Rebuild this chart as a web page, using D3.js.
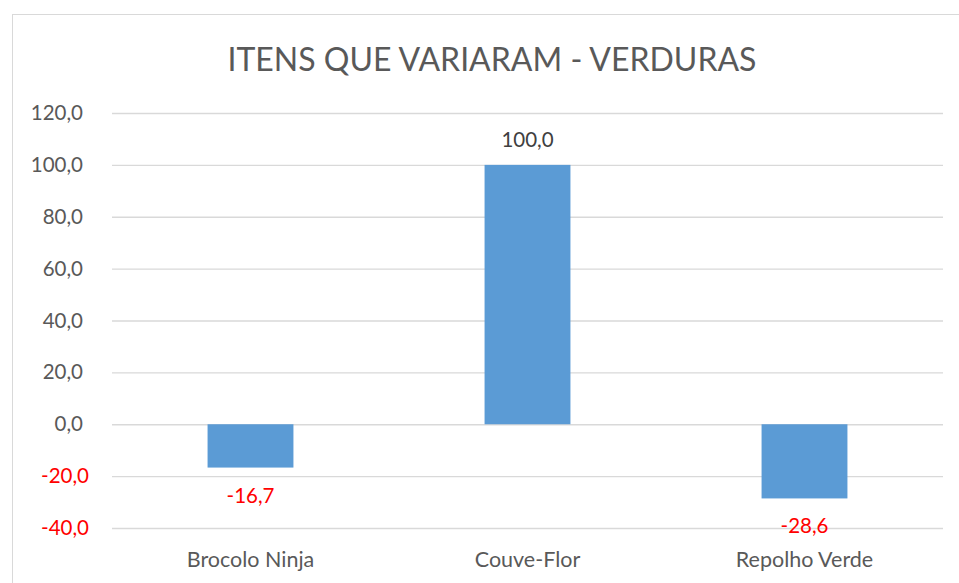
<!DOCTYPE html>
<html>
<head>
<meta charset="utf-8">
<title>Itens que variaram - Verduras</title>
<style>
	body { margin: 0; background: #fff; }
	svg { display: block; font-family: Lato, "Open Sans", sans-serif; }
</style>
</head>
<body>
<script src="https://cdn.jsdelivr.net/npm/d3@7"></script>
<script>

var categories = ["Brocolo Ninja", "Couve-Flor", "Repolho Verde"];
var values = [-16.7, 100.0, -28.6];
var yTicks = [-40, -20, 0, 20, 40, 60, 80, 100, 120];
var title = "ITENS QUE VARIARAM - VERDURAS";

var width = 959;
var height = 583;
var margin = { top: 113, right: 16, bottom: 55, left: 112 };

// excel style numbers: one decimal, comma, plain hyphen for minus
var fmt = function(v) { return v.toFixed(1).replace(".", ","); };

var svg = d3.select("body").append("svg")
	.attr("width", width)
	.attr("height", height);

// chart frame, runs off the right and bottom edges
svg.append("rect")
	.attr("x", 12.5)
	.attr("y", 14.5)
	.attr("width", 960)
	.attr("height", 580)
	.attr("fill", "#fff")
	.attr("stroke", "#d9d9d9");

var x = d3.scaleBand()
	.domain(categories)
	.range([margin.left, width - margin.right])
	.paddingInner(0.69)
	.paddingOuter(0.345);

var y = d3.scaleLinear()
	.domain([-40, 120])
	.range([height - margin.bottom, margin.top]);

svg.append("text")
	.attr("x", 492)
	.attr("y", 71)
	.attr("text-anchor", "middle")
	.attr("font-size", 32)
	.attr("fill", "#595959")
	.text(title);

// gridlines and tick labels
var yAxis = svg.append("g")
	.attr("transform", "translate(" + margin.left + ",0)")
	.call(d3.axisLeft(y)
		.tickValues(yTicks)
		.tickSize(-(width - margin.right - margin.left))
		.tickPadding(29)
		.tickFormat(fmt));

yAxis.select(".domain").remove();
yAxis.selectAll(".tick line")
	.attr("stroke", "#d9d9d9")
	.attr("stroke-width", 1.3);
// negative labels sit a little further right (number format padding)
yAxis.selectAll(".tick text")
	.attr("font-size", 20.5)
	.attr("font-family", "Lato, sans-serif")
	.attr("dx", function(d) { return d < 0 ? 6 : 0; })
	.attr("fill", function(d) { return d < 0 ? "#ff0000" : "#595959"; });

// bars
svg.append("g")
	.selectAll("rect")
	.data(values)
	.join("rect")
		.attr("x", function(d, i) { return x(categories[i]); })
		.attr("y", function(d) { return y(Math.max(0, d)); })
		.attr("width", x.bandwidth())
		.attr("height", function(d) { return Math.abs(y(d) - y(0)); })
		.attr("fill", "#5b9bd5");

// value labels
svg.append("g")
	.selectAll("text")
	.data(values)
	.join("text")
		.attr("x", function(d, i) { return x(categories[i]) + x.bandwidth() / 2; })
		.attr("y", function(d) { return d < 0 ? y(d) + 35 : y(d) - 18; })
		.attr("text-anchor", "middle")
		.attr("font-size", 20.5)
		.attr("fill", function(d) { return d < 0 ? "#ff0000" : "#404040"; })
		.text(fmt);

// category labels
svg.append("g")
	.selectAll("text")
	.data(categories)
	.join("text")
		.attr("x", function(d) { return x(d) + x.bandwidth() / 2; })
		.attr("y", 567)
		.attr("text-anchor", "middle")
		.attr("font-size", 21.5)
		.attr("fill", "#595959")
		.text(function(d) { return d; });

</script>
</body>
</html>
